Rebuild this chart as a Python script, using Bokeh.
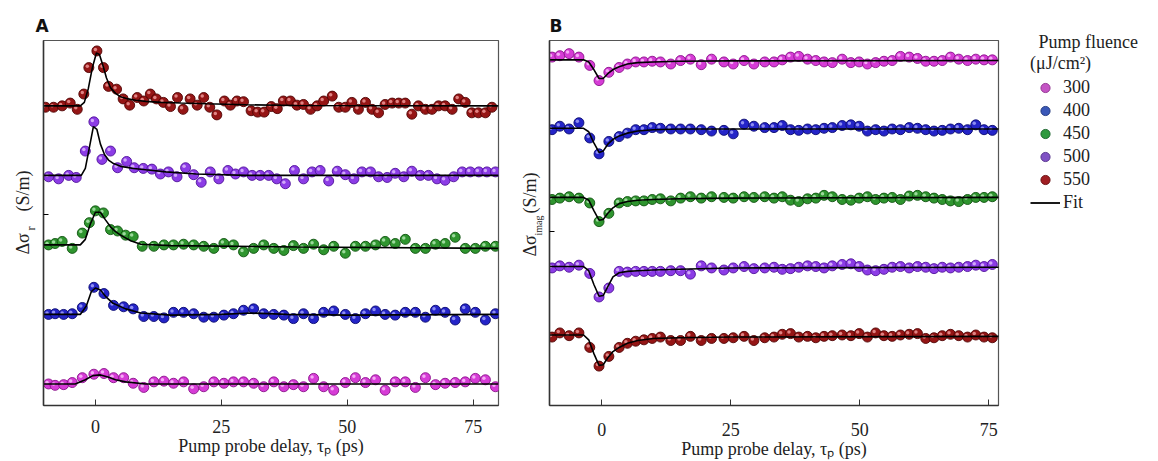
from bokeh.plotting import figure
from bokeh.layouts import row
from bokeh.models import ColumnDataSource, FixedTicker, Legend, LegendItem, Range1d, Title
from bokeh.transform import dodge
from bokeh.embed import file_html
from bokeh.resources import INLINE

# ---------------- data ----------------
fluences = ["300", "400", "450", "500", "550"]
x_ticks = [0, 25, 50, 75]

# Panel A: delta sigma_r (arb. units, baseline 0 for each trace)
a_x_550 = [-9.9, -8.3, -6.6, -5.0, -3.6, -2.3, -1.3, 0.3, 1.6, 2.6,
           4.2, 5.5, 6.8, 8.3, 9.6, 10.9, 12.1, 13.5, 14.9, 16.3,
           17.4, 18.8, 20.2, 21.5, 22.7, 24.1, 25.6, 26.8, 28.1, 29.4,
           30.9, 32.2, 33.5, 34.9, 36.1, 37.3, 38.7, 40.0, 41.3, 42.7,
           44.0, 45.3, 47.0, 48.3, 49.6, 50.9, 52.2, 53.6, 54.9, 56.2,
           57.5, 58.9, 60.2, 61.5, 62.8, 64.1, 65.5, 66.8, 68.1, 69.4,
           70.8, 72.1, 73.4, 74.7, 76.0, 77.4, 78.7]
a_y_550 = [-0.02, -0.02, 0.00, 0.04, -0.05, 0.17, 0.55, 0.79, 0.55, 0.28,
           0.24, 0.10, 0.01, 0.12, 0.07, 0.17, 0.10, 0.05, -0.01, 0.12,
           -0.05, 0.10, 0.01, 0.12, -0.02, -0.13, 0.07, 0.01, 0.07, 0.06,
           -0.07, -0.09, -0.09, -0.01, -0.04, 0.07, 0.07, 0.01, 0.02, -0.05,
           0.00, 0.07, 0.14, -0.02, -0.02, 0.05, -0.05, 0.05, -0.05, -0.10,
           0.02, 0.04, 0.04, 0.04, -0.12, 0.00, -0.05, -0.05, 0.00, 0.00,
           -0.05, 0.10, 0.05, -0.10, -0.10, -0.10, -0.02]
a_x_500 = [-9.3, -7.3, -5.3, -3.8, -2.0, -0.3, 1.3, 3.0, 4.4, 6.2,
           7.7, 9.5, 11.2, 12.9, 14.5, 16.2, 17.9, 19.5, 21.0, 22.8,
           24.5, 26.3, 27.8, 29.4, 31.1, 32.7, 34.4, 36.0, 37.7, 39.5,
           41.3, 43.0, 44.6, 46.3, 48.0, 49.6, 51.3, 52.9, 54.6, 56.2,
           57.9, 59.5, 61.2, 62.8, 64.5, 66.1, 67.8, 69.4, 71.1, 72.8,
           74.4, 76.1, 77.7, 79.4]
a_y_500 = [-0.02, -0.05, 0.00, -0.03, 0.35, 0.77, 0.23, 0.35, 0.11, 0.20,
           0.11, 0.10, 0.09, 0.02, 0.05, -0.02, 0.11, 0.01, -0.10, 0.05,
           -0.05, 0.07, 0.02, 0.05, 0.00, 0.00, 0.00, -0.05, -0.12, 0.07,
           -0.05, 0.05, 0.07, -0.08, 0.06, 0.01, -0.05, 0.05, 0.05, -0.02,
           -0.03, 0.03, -0.02, 0.06, 0.00, 0.00, -0.05, -0.07, -0.02, 0.05,
           0.05, 0.05, 0.05, 0.05]
a_x_450 = [-9.3, -8.0, -6.6, -4.6, -2.6, -1.2, 0.0, 1.6, 3.0, 4.4,
           6.0, 7.5, 9.3, 11.6, 13.6, 15.5, 17.5, 19.5, 21.5, 23.5,
           25.5, 27.4, 29.4, 31.4, 33.4, 35.4, 37.4, 39.3, 41.3, 43.3,
           45.3, 47.3, 49.6, 51.6, 53.6, 55.6, 57.5, 59.5, 61.5, 63.5,
           65.5, 67.5, 69.4, 71.4, 73.4, 75.4, 77.4, 79.4]
a_y_450 = [0.00, 0.02, 0.05, -0.05, 0.17, 0.32, 0.49, 0.46, 0.22, 0.20,
           0.14, 0.12, -0.02, -0.02, 0.00, 0.00, 0.01, 0.00, -0.02, -0.05,
           0.02, 0.00, -0.10, -0.05, 0.00, -0.05, -0.08, -0.01, -0.05, 0.01,
           -0.07, -0.02, -0.12, -0.02, -0.02, 0.00, 0.05, 0.02, 0.08, -0.05,
           -0.05, 0.01, 0.02, 0.11, -0.05, -0.05, -0.02, -0.02]
a_x_400 = [-9.3, -8.0, -6.3, -4.6, -2.6, -0.3, 1.7, 3.6, 5.6, 7.5,
           9.6, 11.6, 13.6, 15.5, 17.5, 19.5, 21.5, 23.5, 25.5, 27.4,
           29.4, 31.4, 33.4, 35.4, 37.4, 39.3, 41.3, 43.3, 45.3, 47.3,
           49.6, 51.6, 53.6, 55.6, 57.5, 59.5, 61.5, 63.5, 65.5, 67.5,
           69.4, 71.4, 73.4, 75.4, 77.4, 79.4]
a_y_400 = [0.00, 0.01, 0.00, 0.01, 0.10, 0.39, 0.30, 0.13, 0.11, 0.08,
           -0.03, -0.03, -0.05, 0.03, 0.03, 0.01, -0.04, -0.04, -0.01, 0.01,
           0.06, 0.08, 0.01, 0.00, -0.01, -0.06, 0.01, -0.06, 0.03, 0.05,
           0.00, -0.06, 0.01, 0.05, 0.00, -0.01, 0.03, 0.03, -0.04, 0.06,
           0.03, -0.08, 0.08, 0.03, -0.08, 0.01]
a_x_300 = a_x_400
a_y_300 = [0.00, -0.02, -0.01, 0.02, 0.09, 0.14, 0.15, 0.09, 0.09, 0.01,
           -0.05, 0.03, 0.04, 0.01, 0.03, -0.07, -0.04, 0.03, 0.01, 0.03,
           0.03, 0.01, -0.04, 0.03, -0.04, -0.01, -0.04, 0.08, -0.04, -0.09,
           0.02, 0.09, 0.02, 0.06, -0.09, 0.03, 0.03, -0.05, 0.09, -0.01,
           0.01, 0.02, 0.03, 0.08, 0.06, -0.04]

# Panel A fits
a_fx_550 = [-10.3, -3.0, -2.2, -1.4, -0.6, 0.2, 0.8, 1.5, 2.2, 3.0, 4.0, 5.0, 6.5, 8.0, 10, 13, 17, 22, 30, 40, 80]
a_fy_550 = [0, 0, 0.05, 0.25, 0.55, 0.76, 0.74, 0.58, 0.40, 0.26, 0.18, 0.13, 0.10, 0.08, 0.065, 0.05, 0.04, 0.03, 0.015, 0.005, 0]
a_fx_500 = [-10.3, -2.8, -2.0, -1.2, -0.4, 0.3, 1.0, 1.8, 2.6, 3.6, 5, 7.6, 10, 14, 20, 30, 80]
a_fy_500 = [0, 0, 0.1, 0.4, 0.7, 0.66, 0.45, 0.3, 0.22, 0.17, 0.13, 0.1, 0.08, 0.05, 0.02, 0, 0]
a_fx_450 = [-10.3, -3.0, -2.0, -1.0, 0.0, 1.0, 2.0, 3.0, 4.0, 5.0, 7.0, 9.0, 15, 40, 80]
a_fy_450 = [0, 0, 0.08, 0.3, 0.47, 0.47, 0.36, 0.26, 0.19, 0.14, 0.06, 0.01, -0.01, -0.03, -0.05]
a_fx_400 = [-10.3, -3.0, -1.8, -0.8, 0.0, 1.0, 2.0, 3.5, 6, 9, 15, 25, 31, 38, 50, 80]
a_fy_400 = [0, 0, 0.12, 0.33, 0.38, 0.35, 0.26, 0.16, 0.08, 0.02, -0.01, 0, 0.02, 0, -0.01, 0]
a_fx_300 = [-10.3, -4, -2, -0.5, 1, 2.5, 4, 6, 10, 80]
a_fy_300 = [0, 0, 0.06, 0.12, 0.13, 0.1, 0.06, 0.03, 0, 0]

# Panel B: delta sigma_imag
b_x = [-9.6, -8.1, -6.3, -4.4, -2.3, -0.5, 1.4, 3.4, 5.0, 6.6,
       8.2, 9.8, 11.4, 13.4, 15.3, 17.2, 19.3, 21.3, 23.7, 25.5,
       27.6, 29.5, 31.6, 33.4, 35.0, 36.6, 38.2, 39.9, 41.5, 43.1,
       44.7, 46.6, 48.3, 49.9, 51.5, 53.1, 54.7, 56.3, 57.9, 59.6,
       61.2, 62.8, 64.4, 66.0, 67.6, 69.2, 70.9, 72.5, 74.1, 75.7]
b_y_300 = [0.04, 0.06, 0.09, 0.04, -0.08, -0.30, -0.18, -0.11, -0.06, -0.03,
           -0.03, -0.02, -0.03, -0.06, -0.01, 0.01, -0.07, 0.01, -0.03, -0.06,
           -0.01, -0.06, -0.03, -0.03, 0.00, 0.04, 0.05, 0.01, -0.01, -0.03,
           -0.04, 0.01, -0.04, -0.03, -0.06, -0.04, -0.02, -0.01, 0.05, 0.04,
           0.02, -0.02, -0.02, -0.01, 0.04, 0.01, -0.01, 0.01, 0.00, 0.00]
b_y_400 = [-0.01, 0.04, 0.00, 0.09, -0.13, -0.36, -0.18, -0.11, -0.06, -0.01,
           -0.01, 0.02, 0.01, 0.00, 0.00, 0.00, -0.01, -0.03, -0.02, -0.07,
           0.07, 0.04, 0.02, 0.02, 0.05, -0.01, -0.02, 0.00, -0.01, 0.01,
           0.02, 0.05, 0.06, 0.04, -0.03, -0.01, -0.03, 0.00, -0.01, 0.02,
           0.01, -0.01, -0.03, -0.02, 0.00, 0.01, -0.01, 0.06, -0.01, -0.02]
b_y_450 = [-0.02, 0.00, 0.02, 0.00, -0.07, -0.34, -0.22, -0.07, -0.05, -0.04,
           -0.04, -0.02, -0.01, -0.04, 0.00, 0.02, 0.00, 0.02, 0.01, 0.00,
           0.02, 0.01, 0.02, 0.00, 0.02, -0.03, -0.05, -0.01, 0.00, 0.04,
           0.02, -0.02, -0.03, 0.00, 0.02, -0.02, 0.00, 0.01, -0.02, 0.03,
           0.04, 0.02, 0.00, -0.02, -0.04, -0.05, -0.02, 0.01, 0.01, 0.02]
b_y_500 = [-0.01, 0.02, 0.00, 0.03, -0.09, -0.43, -0.30, -0.06, -0.07, -0.06,
           -0.06, -0.06, -0.06, -0.05, -0.05, -0.10, 0.02, -0.01, -0.04, -0.01,
           0.01, -0.02, -0.01, 0.00, -0.03, -0.02, 0.00, 0.02, 0.01, -0.01,
           0.02, 0.04, 0.05, 0.01, -0.04, -0.05, -0.03, 0.00, 0.01, -0.01,
           0.01, 0.00, -0.02, 0.00, -0.01, 0.00, 0.01, 0.03, 0.01, 0.04]
b_y_550 = [-0.01, 0.05, 0.01, 0.05, -0.16, -0.43, -0.29, -0.16, -0.10, -0.07,
           -0.05, -0.03, -0.01, -0.06, -0.06, 0.00, -0.06, -0.03, -0.03, -0.02,
           0.00, -0.06, -0.02, -0.01, 0.03, 0.04, -0.01, 0.00, -0.02, 0.00,
           0.01, 0.02, 0.01, 0.04, -0.01, 0.05, 0.01, 0.00, 0.02, 0.03,
           0.04, -0.03, -0.02, 0.01, 0.03, 0.01, -0.01, 0.02, -0.01, -0.02]

# Panel B fits
b_fx = [-10.1, -3.5, -2.5, -1.5, -0.5, 0.3, 1.2, 2.2, 3.4, 5, 7, 10, 15, 25, 77]
b_fy_300 = [0, 0, -0.03, -0.14, -0.27, -0.27, -0.2, -0.14, -0.1, -0.06, -0.04, -0.03, -0.02, -0.015, -0.01]
b_fy_400 = [0.01, 0.01, -0.04, -0.2, -0.34, -0.32, -0.22, -0.15, -0.1, -0.06, -0.03, -0.01, 0, 0, 0]
b_fy_450 = [0.01, 0.01, -0.03, -0.18, -0.32, -0.31, -0.22, -0.14, -0.08, -0.05, -0.03, -0.02, -0.01, 0, 0.01]
b_fy_500 = [0.01, 0.01, -0.05, -0.25, -0.42, -0.41, -0.28, -0.14, -0.08, -0.06, -0.05, -0.04, -0.03, -0.01, 0]
b_fy_550 = [0.02, 0.02, -0.05, -0.25, -0.42, -0.41, -0.31, -0.22, -0.16, -0.1, -0.06, -0.03, -0.02, -0.01, 0]

# ---------------- styling ----------------
main = {"300": "#d63cd6", "400": "#2424c8", "450": "#2f952f", "500": "#8c3ce6", "550": "#951515"}
dark = {"300": "#8a128a", "400": "#0a0a6e", "450": "#0f520f", "500": "#4f129a", "550": "#500505"}
hilite = {"300": "#f8b8f8", "400": "#9a9af5", "450": "#a8e0a8", "500": "#d8b4fb", "550": "#e89090"}
legend_fill = {"300": "#c455c4", "400": "#3a58b8", "450": "#2f9a3f", "500": "#8052c4", "550": "#a01e22"}
legend_line = {"300": "#8e2f8e", "400": "#1f357a", "450": "#17612a", "500": "#52308a", "550": "#650d10"}
SERIF = "Liberation Serif"
TXT = "#222222"

a_offsets = {"300": 0, "400": 1, "450": 2, "500": 3, "550": 4}
b_offsets = {"300": 4, "400": 3, "450": 2, "500": 1, "550": 0}

a_series = [("300", a_x_300, a_y_300, a_fx_300, a_fy_300),
            ("400", a_x_400, a_y_400, a_fx_400, a_fy_400),
            ("450", a_x_450, a_y_450, a_fx_450, a_fy_450),
            ("500", a_x_500, a_y_500, a_fx_500, a_fy_500),
            ("550", a_x_550, a_y_550, a_fx_550, a_fy_550)]
b_series = [("300", b_x, b_y_300, b_fx, b_fy_300),
            ("400", b_x, b_y_400, b_fx, b_fy_400),
            ("450", b_x, b_y_450, b_fx, b_fy_450),
            ("500", b_x, b_y_500, b_fx, b_fy_500),
            ("550", b_x, b_y_550, b_fx, b_fy_550)]


def make_fig(width, xr, yr, border_l, border_r, letter, ytick, label_standoff, title_offset):
    p = figure(width=width, height=461, output_backend="svg", toolbar_location=None,
               x_range=Range1d(*xr), y_range=Range1d(*yr),
               min_border_left=border_l, min_border_right=border_r,
               min_border_top=40, min_border_bottom=0)
    p.background_fill_color = "white"
    p.border_fill_color = "white"
    p.grid.visible = False
    p.outline_line_color = "#555555"
    p.outline_line_width = 1.2
    p.title.text = letter
    p.title.text_font = "DejaVu Sans"
    p.title.text_font_style = "bold"
    p.title.text_font_size = "17px"
    p.title.text_color = "#111111"
    p.title.align = "left"
    p.title.offset = title_offset
    p.title.standoff = 9
    xa = p.xaxis[0]
    xa.ticker = FixedTicker(ticks=x_ticks)
    xa.major_tick_in = 6
    xa.major_tick_out = 0
    xa.minor_tick_line_color = None
    xa.axis_line_width = 1.5
    xa.axis_line_color = "#333333"
    xa.major_tick_line_color = "#333333"
    xa.major_label_text_font = SERIF
    xa.major_label_text_font_size = "18px"
    xa.major_label_text_color = TXT
    xa.major_label_standoff = label_standoff
    xa.axis_label = "Pump probe delay, \u03c4\u209a (ps)"
    xa.axis_label_text_font = SERIF
    xa.axis_label_text_font_size = "18px"
    xa.axis_label_text_font_style = "normal"
    xa.axis_label_text_color = TXT
    xa.axis_label_standoff = 0
    ya = p.yaxis[0]
    ya.ticker = FixedTicker(ticks=[ytick])
    ya.major_tick_in = 5
    ya.major_tick_out = 0
    ya.minor_tick_line_color = None
    ya.axis_line_width = 1.5
    ya.axis_line_color = "#333333"
    ya.major_label_overrides = {ytick: ""}
    ya.major_label_text_font_size = "18px"
    ya.major_label_standoff = 0
    return p


def draw(p, series, offsets, dx, dy):
    for key, xs, vals, fx, fy in series:
        off = offsets[key]
        src = ColumnDataSource(dict(x=xs, y=[v + off for v in vals]))
        p.scatter("x", "y", source=src, size=10, fill_color=main[key],
                  line_color=dark[key], line_width=0.9)
        p.scatter(dodge("x", dx, range=p.x_range), dodge("y", dy, range=p.y_range),
                  source=src, size=3.5, fill_color=hilite[key], line_color=None, fill_alpha=0.9)
    for key, xs, vals, fx, fy in series:
        off = offsets[key]
        p.line(fx, [v + off for v in fy], line_color="black", line_width=1.6)


def ylabel(p, sub, sub_size, sub_offset, sub_standoff, main_offset, main_standoff):
    # subscript column (closest to the axis), then the main text column
    p.add_layout(Title(text=sub, align="left", offset=sub_offset, standoff=sub_standoff,
                       text_font=SERIF, text_font_size=sub_size, text_font_style="normal",
                       text_color=TXT), "left")
    p.add_layout(Title(text="\u0394\u03c3\u2002\u2002\u2009(S/m)", align="left",
                       offset=main_offset, standoff=main_standoff, text_font=SERIF,
                       text_font_size="18px", text_font_style="normal",
                       text_color=TXT), "left")


pA = make_fig(510, (-10.3, 80), (-0.31, 4.94), 43, 12, "A", 2.44, 14, -8)
draw(pA, a_series, a_offsets, -0.3, 0.021)
ylabel(pA, "r", "12px", 175, 12, 151, -35)

pB = make_fig(490, (-10.1, 76.9), (-1.0, 4.28), 39, 2, "B", 1.51, 17, 0)
draw(pB, b_series, b_offsets, -0.3, 0.022)
ylabel(pB, "imag", "10px", 170, 11, 149, -29)

# legend panel (legend proxies sit outside the visible range)
pL = figure(width=158, height=461, output_backend="svg", toolbar_location=None,
            x_range=Range1d(0, 1), y_range=Range1d(0, 1),
            x_axis_type=None, y_axis_type=None, min_border=0)
pL.outline_line_color = None
pL.grid.visible = False
pL.background_fill_color = "white"
pL.border_fill_color = "white"
pL.title.text = "Pump fluence"
pL.title.text_font = SERIF
pL.title.text_font_size = "18px"
pL.title.text_font_style = "normal"
pL.title.text_color = TXT
pL.title.align = "left"
pL.title.offset = 38
pL.title.standoff = -22
items = []
for k in fluences:
    r = pL.scatter(x=[-5], y=[-5], size=10, fill_color=legend_fill[k], line_color=legend_line[k], line_width=0.9)
    items.append(LegendItem(label=k, renderers=[r]))
fit_r = pL.line(x=[-5, -4], y=[-5, -5], line_color="black", line_width=1.8)
items.append(LegendItem(label="Fit", renderers=[fit_r]))
legend = Legend(items=items, location=(30, 191), orientation="vertical",
                title="(\u03bcJ/cm\u00b2)",
                title_text_font=SERIF, title_text_font_size="18px",
                title_text_font_style="normal", title_text_color=TXT, title_standoff=2,
                label_text_font=SERIF, label_text_font_size="18px", label_text_color=TXT,
                label_standoff=3, glyph_width=30, glyph_height=23, label_height=23,
                spacing=0, padding=0, margin=0, border_line_color=None,
                background_fill_alpha=0)
pL.add_layout(legend)

layout = row(pA, pB, pL)
open("out.html", "w").write(file_html(layout, INLINE))
